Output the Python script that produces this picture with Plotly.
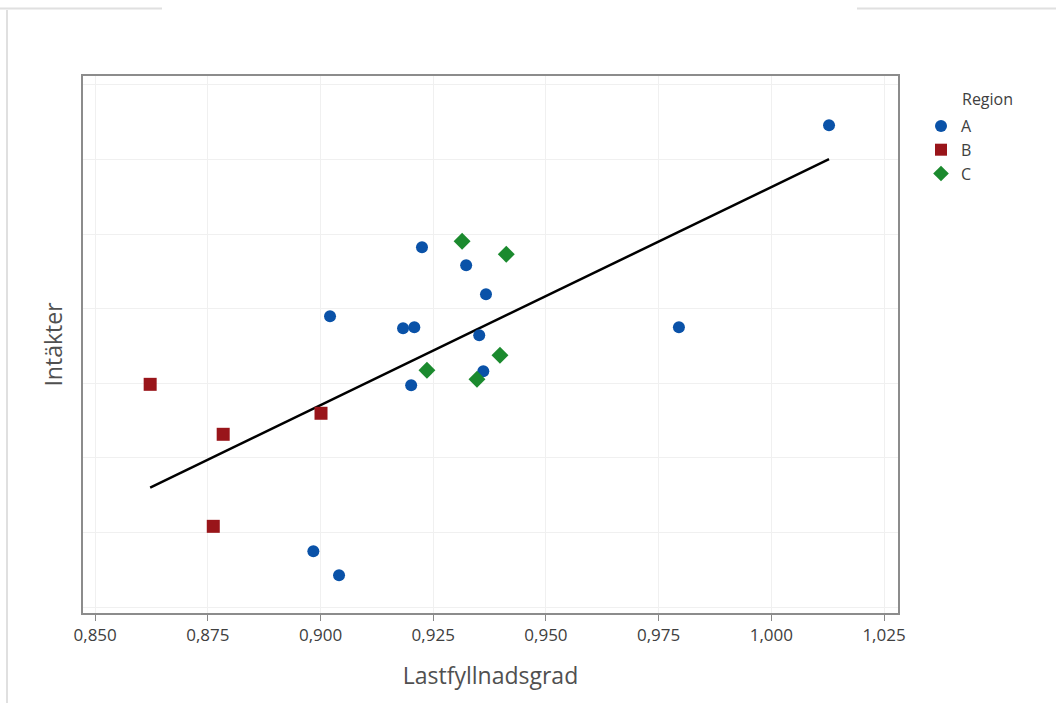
import numpy as np
import plotly.graph_objects as go

# Data (y in arbitrary units; axis has no tick labels)
a_x = [1.0128, 0.9225, 0.9323, 0.9367, 0.9021, 0.9183, 0.9208, 0.9352, 0.9795, 0.9361, 0.9201, 0.8984, 0.9041]
a_y = [6.460, 4.824, 4.582, 4.193, 3.898, 3.737, 3.751, 3.644, 3.751, 3.161, 2.973, 0.747, 0.425]
b_x = [0.8622, 0.8784, 0.9001, 0.8762]
b_y = [2.986, 2.316, 2.598, 1.082]
c_x = [0.9314, 0.9412, 0.9398, 0.9236, 0.9347]
c_y = [4.904, 4.730, 3.375, 3.174, 3.054]
regions = ["A", "B", "C"]
x_ticks = [0.850, 0.875, 0.900, 0.925, 0.950, 0.975, 1.000, 1.025]

colors = {"A": "#0a52a8", "B": "#99151a", "C": "#1b8a2e"}
symbols = {"A": "circle", "B": "square", "C": "diamond"}
sizes = {"A": 12, "B": 13, "C": 13}
series = {"A": (a_x, a_y), "B": (b_x, b_y), "C": (c_x, c_y)}

fig = go.Figure()

# Regression line over all points
all_x = np.array(a_x + b_x + c_x)
all_y = np.array(a_y + b_y + c_y)
slope, intercept = np.polyfit(all_x, all_y, 1)
lx = np.array([all_x.min(), all_x.max()])
fig.add_trace(go.Scatter(x=lx, y=slope * lx + intercept, mode="lines",
                         line=dict(color="black", width=2.5),
                         showlegend=False, hoverinfo="skip"))

for r in regions:
    xs, ys = series[r]
    fig.add_trace(go.Scatter(x=xs, y=ys, mode="markers", name=r,
                             marker=dict(color=colors[r], symbol=symbols[r],
                                         size=sizes[r], line=dict(width=0))))

font_family = "Open Sans, Noto Sans, sans-serif"
PW, PH = 815, 537  # plot area size in px
fig.update_layout(
    width=1056, height=704,
    margin=dict(l=83, r=158, t=76, b=91),
    paper_bgcolor="white", plot_bgcolor="white",
    separators=", ",
    font=dict(family=font_family, color="#404040"),
    showlegend=True,
    legend=dict(x=(921 - 83) / PW, y=(613 - 109) / PH, xanchor="left", yanchor="top",
                font=dict(size=16, color="#404040"),
                tracegroupgap=0, itemsizing="constant"),
    annotations=[dict(text="Region", xref="paper", yref="paper",
                      x=(960 - 83) / PW, y=(613 - 99) / PH, xanchor="left", yanchor="middle",
                      showarrow=False, font=dict(size=16, color="#404040"))],
    xaxis=dict(range=[0.8473, 1.0281], tickvals=x_ticks, tickformat=".3f",
               ticks="outside", ticklen=6, tickcolor="#888888",
               tickfont=dict(size=17, color="#404040"),
               showgrid=True, gridcolor="#f0f0f0", gridwidth=1,
               showline=True, linecolor="#8c8c8c", linewidth=1.5, mirror=True,
               zeroline=False,
               title=dict(text="Lastfyllnadsgrad", font=dict(size=23, color="#505050"), standoff=23)),
    yaxis=dict(range=[-0.08, 7.12], dtick=1, tick0=0, showticklabels=False,
               ticks="", showgrid=True, gridcolor="#f0f0f0", gridwidth=1,
               showline=True, linecolor="#8c8c8c", linewidth=1.5, mirror=True,
               zeroline=False,
               title=dict(text="Intäkter", font=dict(size=23, color="#505050"), standoff=12)),
    shapes=[
        dict(type="line", xref="paper", yref="paper", x0=-83 / PW, x1=(162 - 83) / PW,
             y0=(613 - 8.5) / PH, y1=(613 - 8.5) / PH, line=dict(color="#e0e0e0", width=2)),
        dict(type="line", xref="paper", yref="paper", x0=(857 - 83) / PW, x1=(1056 - 83) / PW,
             y0=(613 - 8.5) / PH, y1=(613 - 8.5) / PH, line=dict(color="#e0e0e0", width=2)),
        dict(type="line", xref="paper", yref="paper", x0=(7 - 83) / PW, x1=(7 - 83) / PW,
             y0=(613 - 10) / PH, y1=(613 - 703) / PH, line=dict(color="#e0e0e0", width=2)),
    ],
)

fig.write_html("out.html", config={"displayModeBar": False},
               post_script="document.body.style.margin='0';")
